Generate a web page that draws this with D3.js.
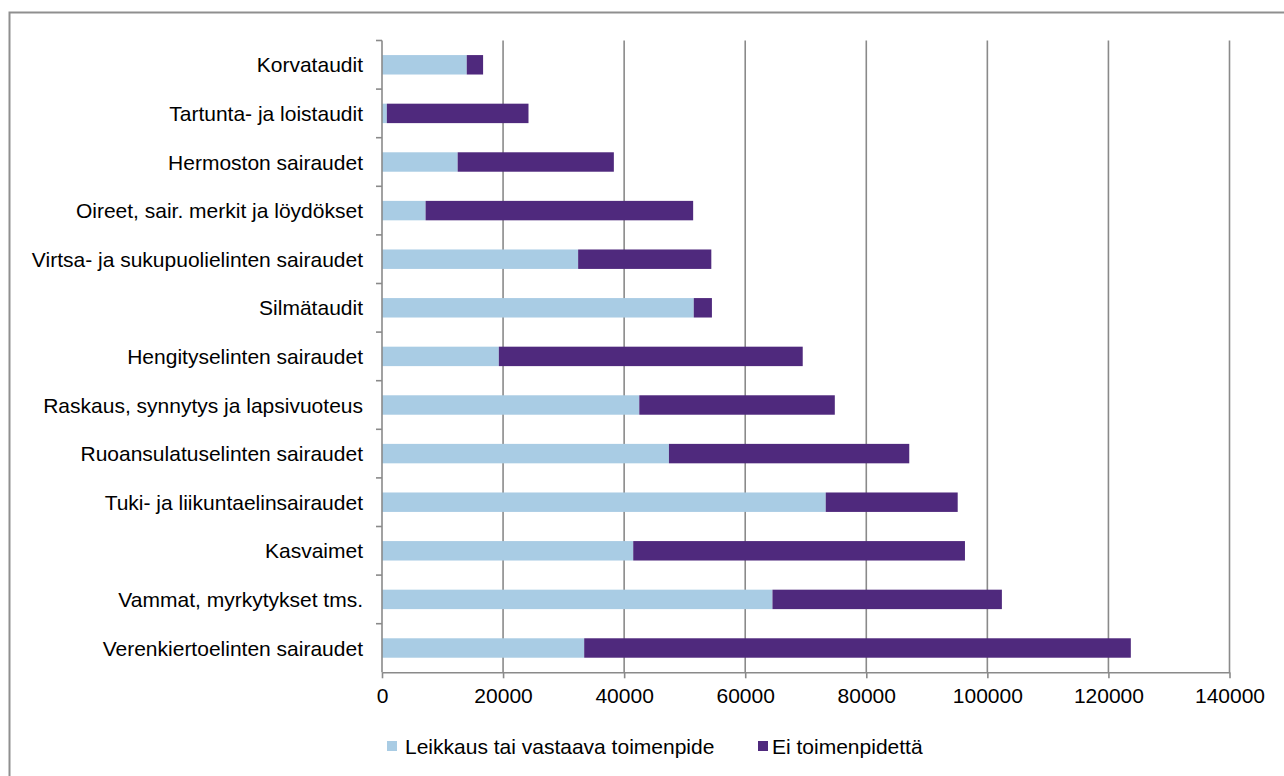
<!DOCTYPE html>
<html>
<head>
<meta charset="utf-8">
<script src="https://cdn.jsdelivr.net/npm/d3@7"></script>
<style>
  html, body { margin: 0; padding: 0; background: #fff; }
  svg { display: block; font-family: "Liberation Sans", Arial, sans-serif; }
</style>
</head>
<body>
<svg id="chart" width="1284" height="776"></svg>
<script>
// Categories, top to bottom
const categories = [
  "Korvataudit",
  "Tartunta- ja loistaudit",
  "Hermoston sairaudet",
  "Oireet, sair. merkit ja löydökset",
  "Virtsa- ja sukupuolielinten sairaudet",
  "Silmätaudit",
  "Hengityselinten sairaudet",
  "Raskaus, synnytys ja lapsivuoteus",
  "Ruoansulatuselinten sairaudet",
  "Tuki- ja liikuntaelinsairaudet",
  "Kasvaimet",
  "Vammat, myrkytykset tms.",
  "Verenkiertoelinten sairaudet"
];

// Hoitojaksot: leikkaus tai vastaava toimenpide
const leikkaus = [14000, 800, 12500, 7200, 32400, 51500, 19300, 42500, 47400, 73300, 41500, 64500, 33400];
// Hoitojaksot: ei toimenpidettä
const eiToimenpidetta = [2700, 23400, 25800, 44200, 22000, 3000, 50200, 32300, 39700, 21800, 54800, 37900, 90300];

const seriesNames = ["Leikkaus tai vastaava toimenpide", "Ei toimenpidettä"];
const xTicks = [0, 20000, 40000, 60000, 80000, 100000, 120000, 140000];

const colors = ["#A9CCE4", "#4F297D"];
const gridColor = "#8a8a8a";

const svg = d3.select("#chart");
const W = 1284, H = 776;
const margin = { left: 382, top: 40.5, right: W - 1229.5, bottom: H - 672.3 };
const innerW = W - margin.left - margin.right;
const innerH = H - margin.top - margin.bottom;

// Outer frame
svg.append("rect")
  .attr("x", 9.5).attr("y", 12.5)
  .attr("width", 1400).attr("height", 900)
  .attr("fill", "none")
  .attr("stroke", "#8f8f8f")
  .attr("stroke-width", 2);

const g = svg.append("g").attr("transform", `translate(${margin.left},${margin.top})`);

const x = d3.scaleLinear().domain([0, 140000]).range([0, innerW]);
const y = d3.scaleBand().domain(categories).range([0, innerH]).paddingInner(0.6).paddingOuter(0.3);
const yTicks = d3.scaleBand().domain(categories).range([0, innerH]);

// Vertical gridlines
g.append("g")
  .selectAll("line")
  .data(xTicks.slice(1))
  .join("line")
  .attr("x1", d => x(d)).attr("x2", d => x(d))
  .attr("y1", 0).attr("y2", innerH)
  .attr("stroke", gridColor)
  .attr("stroke-width", 1.6);

// Stacked bars
const rows = categories.map((c, i) => ({ cat: c, a: leikkaus[i], b: eiToimenpidetta[i] }));
const stack = d3.stack().keys(["a", "b"]);
const stacked = stack(rows);

g.append("g")
  .selectAll("g")
  .data(stacked)
  .join("g")
  .attr("fill", (d, i) => colors[i])
  .selectAll("rect")
  .data(d => d)
  .join("rect")
  .attr("x", d => x(d[0]))
  .attr("width", d => x(d[1]) - x(d[0]))
  .attr("y", d => y(d.data.cat))
  .attr("height", y.bandwidth());

// X axis
const xAxis = g.append("g")
  .attr("transform", `translate(0,${innerH})`)
  .call(d3.axisBottom(x).tickValues(xTicks).tickFormat(d3.format("d")).tickSize(6).tickSizeOuter(0));
xAxis.select(".domain").attr("stroke", gridColor).attr("stroke-width", 1.6);
xAxis.selectAll(".tick line").attr("stroke", gridColor).attr("stroke-width", 1.6);
xAxis.selectAll(".tick text")
  .attr("fill", "#000")
  .attr("font-size", "21px")
  .attr("font-family", "Liberation Sans, Arial, sans-serif")
  .attr("y", 16).attr("dy", "0.71em");

// Y axis: line with tick marks between categories
const yAxisG = g.append("g");
yAxisG.append("line")
  .attr("x1", 0).attr("x2", 0).attr("y1", 0).attr("y2", innerH)
  .attr("stroke", gridColor).attr("stroke-width", 1.6);
yAxisG.selectAll("line.tick")
  .data(categories)
  .join("line")
  .attr("class", "tick")
  .attr("x1", -6).attr("x2", 0)
  .attr("y1", d => yTicks(d)).attr("y2", d => yTicks(d))
  .attr("stroke", gridColor).attr("stroke-width", 1.6);

// Category labels
yAxisG.selectAll("text")
  .data(categories)
  .join("text")
  .attr("x", -19)
  .attr("y", d => y(d) + y.bandwidth() / 2)
  .attr("dy", "0.36em")
  .attr("text-anchor", "end")
  .attr("font-size", "21px")
  .attr("fill", "#000")
  .text(d => d);

// Legend
const legendItems = [
  { name: seriesNames[0], color: colors[0], x: 387, textX: 18 },
  { name: seriesNames[1], color: colors[1], x: 758, textX: 14 }
];
const legend = svg.append("g");
const lg = legend.selectAll("g").data(legendItems).join("g")
  .attr("transform", d => `translate(${d.x},741)`);
lg.append("rect")
  .attr("x", 0).attr("y", 0).attr("width", 10).attr("height", 10)
  .attr("fill", d => d.color);
lg.append("text")
  .attr("x", d => d.textX).attr("y", 5).attr("dy", "0.36em")
  .attr("font-size", "21px")
  .attr("fill", "#000")
  .text(d => d.name);
</script>
</body>
</html>
